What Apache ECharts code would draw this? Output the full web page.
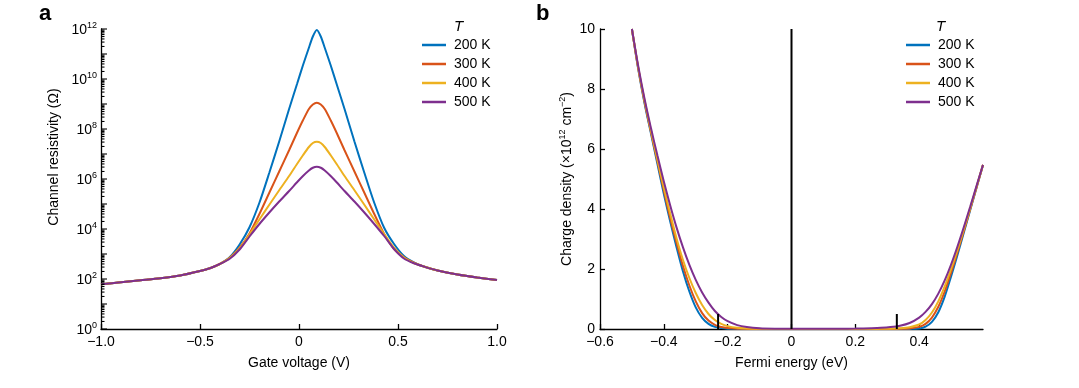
<!DOCTYPE html>
<html><head><meta charset="utf-8">
<script src="https://cdn.jsdelivr.net/npm/echarts@6/dist/echarts.min.js"></script>
<style>html,body{margin:0;padding:0;background:#fff}#c{width:1079px;height:388px}</style>
</head><body><div id="c"></div>
<script>
// ---------- data ----------
const seriesNames = ['200 K', '300 K', '400 K', '500 K'];
const seriesColors = ['#0072BD', '#D95319', '#EDB120', '#7E2F8E'];

// Panel a: gate voltage (V) and log10 of channel resistivity (Ohm)
const gateVoltage = [-1, -0.9, -0.8, -0.7, -0.6, -0.5, -0.45, -0.4, -0.35, -0.3, -0.25, -0.2, -0.15, -0.1, -0.05, -0.01, 0.02, 0.05, 0.07, 0.09, 0.11, 0.13, 0.16, 0.19, 0.23, 0.28, 0.33, 0.38, 0.43, 0.48, 0.53, 0.58, 0.63, 0.7, 0.8, 0.9, 1.0];
const logRes200 = [1.79, 1.87, 1.95, 2.03, 2.14, 2.32, 2.43, 2.6, 2.87, 3.38, 4.07, 5.05, 6.25, 7.5, 8.8, 9.8, 10.55, 11.25, 11.7, 11.96, 11.7, 11.25, 10.55, 9.8, 8.8, 7.5, 6.25, 5.05, 4.05, 3.4, 2.92, 2.66, 2.5, 2.34, 2.18, 2.06, 1.96];
const logRes300 = [1.79, 1.87, 1.95, 2.03, 2.14, 2.32, 2.43, 2.6, 2.85, 3.25, 3.82, 4.6, 5.45, 6.3, 7.15, 7.85, 8.35, 8.8, 8.98, 9.05, 8.98, 8.8, 8.35, 7.85, 7.15, 6.3, 5.45, 4.6, 3.8, 3.2, 2.87, 2.65, 2.5, 2.34, 2.18, 2.06, 1.96];
const logRes400 = [1.79, 1.87, 1.95, 2.03, 2.14, 2.32, 2.43, 2.6, 2.84, 3.22, 3.78, 4.38, 4.97, 5.55, 6.12, 6.6, 6.95, 7.28, 7.44, 7.49, 7.44, 7.28, 6.95, 6.6, 6.12, 5.55, 4.97, 4.38, 3.8, 3.25, 2.86, 2.64, 2.5, 2.34, 2.18, 2.06, 1.96];
const logRes500 = [1.79, 1.87, 1.95, 2.03, 2.14, 2.32, 2.43, 2.6, 2.81, 3.18, 3.7, 4.2, 4.66, 5.1, 5.52, 5.87, 6.12, 6.34, 6.45, 6.49, 6.45, 6.34, 6.12, 5.87, 5.52, 5.1, 4.66, 4.2, 3.72, 3.2, 2.82, 2.63, 2.5, 2.34, 2.18, 2.06, 1.96];
const gateTicks = [-1, -0.5, 0, 0.5, 1];
const resDecades = [0, 1, 2, 3, 4, 5, 6, 7, 8, 9, 10, 11, 12];
const resLabelValues = [1, 1e2, 1e4, 1e6, 1e8, 1e10, 1e12];

// Panel b: Fermi energy (eV) and charge density (x1e12 cm^-2)
const fermiEnergy = [-0.5, -0.48, -0.46, -0.44, -0.42, -0.40, -0.38, -0.36, -0.34, -0.32, -0.30, -0.28, -0.26, -0.24, -0.22, -0.20, -0.17, -0.14, -0.10, -0.05, 0, 0.05, 0.10, 0.15, 0.20, 0.25, 0.28, 0.31, 0.34, 0.37, 0.40, 0.42, 0.44, 0.46, 0.48, 0.50, 0.52, 0.54, 0.56, 0.58, 0.60];
const dens200 = [10.0, 8.65, 7.5, 6.5, 5.5, 4.5, 3.58, 2.72, 1.92, 1.25, 0.72, 0.37, 0.17, 0.07, 0.03, 0.012, 0.004, 0.001, 0, 0, 0, 0, 0, 0, 0, 0, 0, 0, 0.001, 0.004, 0.02, 0.08, 0.24, 0.56, 1.08, 1.75, 2.47, 3.22, 3.97, 4.72, 5.47];
const dens300 = [10.0, 8.68, 7.55, 6.55, 5.58, 4.62, 3.7, 2.87, 2.1, 1.45, 0.92, 0.53, 0.28, 0.14, 0.065, 0.03, 0.01, 0.004, 0.001, 0, 0, 0, 0, 0, 0, 0.001, 0.001, 0.002, 0.006, 0.02, 0.07, 0.17, 0.38, 0.74, 1.25, 1.88, 2.56, 3.27, 4.0, 4.73, 5.47];
const dens400 = [10.0, 8.7, 7.6, 6.6, 5.65, 4.72, 3.84, 3.02, 2.3, 1.7, 1.2, 0.8, 0.5, 0.3, 0.17, 0.095, 0.04, 0.017, 0.006, 0.002, 0.001, 0.001, 0.001, 0.001, 0.001, 0.003, 0.005, 0.01, 0.025, 0.06, 0.15, 0.3, 0.55, 0.92, 1.42, 2.0, 2.64, 3.33, 4.03, 4.75, 5.47];
const dens500 = [10.0, 8.75, 7.65, 6.68, 5.78, 4.92, 4.12, 3.38, 2.72, 2.14, 1.64, 1.22, 0.88, 0.6, 0.4, 0.26, 0.13, 0.065, 0.025, 0.009, 0.005, 0.005, 0.006, 0.009, 0.015, 0.028, 0.04, 0.065, 0.11, 0.2, 0.38, 0.57, 0.83, 1.18, 1.62, 2.15, 2.75, 3.4, 4.08, 4.78, 5.47];
const fermiTicks = [-0.6, -0.4, -0.2, 0, 0.2, 0.4];
const markerX = [-0.23, 0, 0.33];
const markerTop = [0.5, 10, 0.5];

// ---------- chart ----------
const FONT = '"Liberation Sans", Arial, Helvetica, sans-serif';
const AXIS = { color: '#000', width: 1.3 };
const fmtNum = v => v === 0 ? '0' : (v < 0 ? '\u2212' : '') + Math.abs(v).toFixed(1);

const resLogs = [logRes200, logRes300, logRes400, logRes500];
const densAll = [dens200, dens300, dens400, dens500];

// log-axis ticks (decades + 2..9 minor) drawn against the log scale
const resTicks = [];
resDecades.forEach(e => {
  resTicks.push([-1, Math.pow(10, e), 1]);
  if (e < 12) for (let m = 2; m <= 9; m++) resTicks.push([-1, m * Math.pow(10, e), 0]);
});

const series = [];
seriesNames.forEach((name, i) => {
  series.push({
    name, type: 'line', xAxisIndex: 0, yAxisIndex: 0, symbol: 'none', smooth: 0.25,
    lineStyle: { width: 2, color: seriesColors[i] }, itemStyle: { color: seriesColors[i] },
    data: gateVoltage.map((x, j) => [x, Math.pow(10, resLogs[i][j])])
  });
});
seriesNames.forEach((name, i) => {
  series.push({
    name, type: 'line', xAxisIndex: 1, yAxisIndex: 1, symbol: 'none', smooth: 0.3,
    lineStyle: { width: 2, color: seriesColors[i] }, itemStyle: { color: seriesColors[i] },
    data: fermiEnergy.map((x, j) => [x, densAll[i][j]])
  });
});
series.push({
  type: 'custom', xAxisIndex: 0, yAxisIndex: 0, silent: true, clip: false, z: 5,
  data: resTicks,
  renderItem: (params, api) => {
    const p = api.coord([api.value(0), api.value(1)]);
    const len = api.value(2) ? 6 : 3.5;
    return { type: 'line', shape: { x1: p[0], y1: p[1], x2: p[0] + len, y2: p[1] },
      style: { stroke: '#000', lineWidth: 1.1 } };
  }
});
series.push({
  type: 'custom', xAxisIndex: 1, yAxisIndex: 1, silent: true, clip: false, z: 10,
  data: markerX.map((x, i) => [x, markerTop[i]]),
  renderItem: (params, api) => {
    const p0 = api.coord([api.value(0), 0]);
    const p1 = api.coord([api.value(0), api.value(1)]);
    return { type: 'line', shape: { x1: p0[0], y1: p0[1], x2: p1[0], y2: p1[1] },
      style: { stroke: '#000', lineWidth: 2 } };
  }
});

const supRich = {
  b: { fontSize: 14, color: '#000', fontFamily: FONT, padding: [2, 0, 0, 0], verticalAlign: 'bottom' },
  s: { fontSize: 9, color: '#000', fontFamily: FONT, verticalAlign: 'top' }
};

const legendBase = {
  orient: 'vertical', data: seriesNames.map(n => ({ name: n, icon: 'rect' })),
  itemWidth: 24, itemHeight: 2.5, itemGap: 5, padding: 0,
  textStyle: { fontSize: 14, lineHeight: 14, color: '#000', fontFamily: FONT, padding: [0, 0, 0, 3] }
};

const option = {
  animation: false,
  textStyle: { fontFamily: FONT },
  title: [
    { text: 'a', left: 39, top: 3, padding: 0, textStyle: { fontSize: 22, fontWeight: 'bold', color: '#000', fontFamily: FONT } },
    { text: 'b', left: 536, top: 3, padding: 0, textStyle: { fontSize: 22, fontWeight: 'bold', color: '#000', fontFamily: FONT } },
    { text: 'T', left: 454, top: 19, padding: 0, textStyle: { fontSize: 15, fontStyle: 'italic', fontWeight: 'normal', color: '#000', fontFamily: FONT } },
    { text: 'T', left: 936, top: 19, padding: 0, textStyle: { fontSize: 15, fontStyle: 'italic', fontWeight: 'normal', color: '#000', fontFamily: FONT } }
  ],
  legend: [
    Object.assign({}, legendBase, { left: 422, top: 38 }),
    Object.assign({}, legendBase, { left: 906, top: 38 })
  ],
  grid: [
    { left: 101, top: 29, width: 396, height: 300 },
    { left: 600, top: 29, width: 383, height: 300 }
  ],
  xAxis: [
    { type: 'value', gridIndex: 0, min: -1, max: 1, interval: 0.5,
      axisLine: { onZero: false, lineStyle: AXIS }, splitLine: { show: false },
      axisTick: { inside: true, length: 5, lineStyle: AXIS, customValues: gateTicks },
      axisLabel: { fontSize: 14, color: '#000', margin: 6, formatter: fmtNum, customValues: gateTicks },
      name: 'Gate voltage (V)', nameLocation: 'middle', nameGap: 27,
      nameTextStyle: { fontSize: 14, color: '#000', fontFamily: FONT } },
    { type: 'value', gridIndex: 1, min: -0.6, max: 0.6, interval: 0.2,
      axisLine: { onZero: false, lineStyle: AXIS }, splitLine: { show: false },
      axisTick: { inside: true, length: 5, lineStyle: AXIS, customValues: fermiTicks },
      axisLabel: { fontSize: 14, color: '#000', margin: 6, formatter: fmtNum, customValues: fermiTicks },
      name: 'Fermi energy (eV)', nameLocation: 'middle', nameGap: 27,
      nameTextStyle: { fontSize: 14, color: '#000', fontFamily: FONT } }
  ],
  yAxis: [
    { type: 'log', logBase: 10, gridIndex: 0, min: 1, max: 1e12,
      axisLine: { onZero: false, lineStyle: AXIS }, splitLine: { show: false }, axisTick: { show: false },
      axisLabel: { margin: 4, customValues: resLabelValues,
        formatter: v => '{b|10}{s|' + Math.round(Math.log10(v)) + '}', rich: supRich },
      name: 'Channel resistivity (\u03A9)', nameLocation: 'middle', nameGap: 40,
      nameTextStyle: { fontSize: 14, color: '#000', fontFamily: FONT, padding: [0, 0, 0, 44] } },
    { type: 'value', gridIndex: 1, min: 0, max: 10, interval: 2,
      axisLine: { onZero: false, lineStyle: AXIS }, splitLine: { show: false },
      axisTick: { inside: true, length: 5, lineStyle: AXIS },
      axisLabel: { fontSize: 14, color: '#000', margin: 5 },
      name: '{n|Charge density (\u00D710}{s|12}{n| cm}{s|\u22122}{n|)}', nameLocation: 'middle', nameGap: 26,
      nameTextStyle: { rich: {
        n: { fontSize: 14, color: '#000', fontFamily: FONT, padding: [2, 0, 0, 0], verticalAlign: 'bottom' },
        s: { fontSize: 9, color: '#000', fontFamily: FONT, verticalAlign: 'top' } } } }
  ],
  series
};

const chart = echarts.init(document.getElementById('c'), null, { renderer: 'canvas' });
chart.setOption(option);
</script>
</body></html>
